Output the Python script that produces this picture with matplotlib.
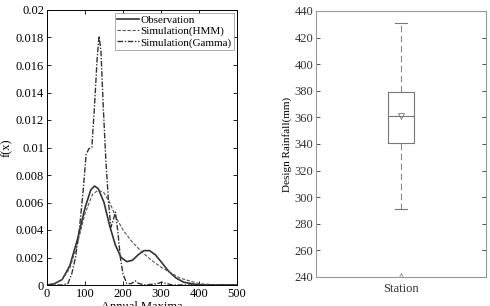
import matplotlib
matplotlib.use("Agg")
import matplotlib.pyplot as plt
import numpy as np

plt.rcParams['font.family'] = ['Liberation Serif', 'DejaVu Serif']

# Left panel: density curves
obs_x = [0, 20, 40, 60, 80, 100, 115, 125, 135, 150, 165, 180, 195, 210, 225, 240, 255, 270, 285, 300, 320, 340, 360, 380, 400, 450, 500]
obs_y = [0.0, 0.0001, 0.0004, 0.0014, 0.0033, 0.0056, 0.0069, 0.0072, 0.0070, 0.0060, 0.0043, 0.0029, 0.0020, 0.0017, 0.0018, 0.0022, 0.0025, 0.0025, 0.0022, 0.0017, 0.0010, 0.0005, 0.0002, 0.0001, 0.0, 0.0, 0.0]

hmm_x = [0, 20, 40, 60, 80, 100, 120, 135, 150, 165, 180, 200, 225, 250, 275, 300, 325, 350, 375, 400, 450, 500]
hmm_y = [0.0, 0.0001, 0.0004, 0.0012, 0.0030, 0.0052, 0.0066, 0.0069, 0.0067, 0.0060, 0.0050, 0.0040, 0.0031, 0.0024, 0.0018, 0.0013, 0.0009, 0.0005, 0.0003, 0.0001, 0.0, 0.0]

gam_x = [0, 40, 55, 65, 75, 85, 95, 103, 110, 118, 125, 132, 137, 142, 148, 155, 162, 168, 174, 180, 186, 193, 200, 210, 222, 232, 242, 260, 290, 302, 315, 330, 500]
gam_y = [0.0, 0.0, 0.0001, 0.0008, 0.0020, 0.0040, 0.0068, 0.0095, 0.0099, 0.0100, 0.0130, 0.0165, 0.0181, 0.0170, 0.0130, 0.0090, 0.0060, 0.0042, 0.0047, 0.0053, 0.0040, 0.0020, 0.0008, 0.0001, 0.0001, 0.0003, 0.0001, 0.0, 0.0001, 0.0002, 0.0001, 0.0, 0.0]

labels = ['Observation', 'Simulation(HMM)', 'Simulation(Gamma)']

# Right panel: box plot statistics
box_median = 361
box_q1 = 341
box_q3 = 379
box_whislo = 291
box_whishi = 431
box_mean = 361
box_fliers = [241]
box_label = 'Station'

fig = plt.figure(figsize=(4.9, 3.06), dpi=100)
ax1 = fig.add_axes([47/490, 1 - 285/306, 190/490, 275/306])
ax2 = fig.add_axes([316/490, 1 - 277/306, 170/490, 266/306])

ax1.plot(obs_x, obs_y, color='#333333', lw=1.2, ls='-', label=labels[0])
ax1.plot(hmm_x, hmm_y, color='#555555', lw=0.8, ls=(0, (3, 1.5)), label=labels[1])
ax1.plot(gam_x, gam_y, color='#333333', lw=1.0, ls=(0, (4, 1.2, 1, 1.2)), label=labels[2])
ax1.set_xlim(0, 500)
ax1.set_ylim(0, 0.02)
ax1.set_xticks([0, 100, 200, 300, 400, 500])
ax1.set_yticks(np.arange(0, 0.0201, 0.002))
ax1.set_yticklabels(['0', '0.002', '0.004', '0.006', '0.008', '0.01', '0.012', '0.014', '0.016', '0.018', '0.02'])
ax1.set_xlabel('Annual Maxima', fontsize=9, labelpad=1)
ax1.set_ylabel('f(x)', fontsize=9, labelpad=2)
ax1.tick_params(direction='in', top=True, right=True, labelsize=9, length=3, width=0.6, pad=2)
leg = ax1.legend(loc='upper right', fontsize=8, frameon=True, fancybox=False, edgecolor='#888888',
                 borderpad=0.2, labelspacing=0.1, handlelength=2.0, handletextpad=0.1, borderaxespad=0.3)
leg.get_frame().set_linewidth(0.6)

stats = [dict(med=box_median, q1=box_q1, q3=box_q3, whislo=box_whislo, whishi=box_whishi,
              mean=box_mean, fliers=box_fliers, label=box_label)]
ax2.bxp(stats, positions=[1], widths=0.15, showmeans=True, showfliers=True,
        boxprops=dict(color='#777777', lw=0.8),
        medianprops=dict(color='#777777', lw=0.8),
        whiskerprops=dict(color='#888888', lw=0.8, ls=(0, (6, 3))),
        capprops=dict(color='#777777', lw=0.8),
        meanprops=dict(marker='v', markerfacecolor='none', markeredgecolor='#777777', markersize=4, markeredgewidth=0.6),
        flierprops=dict(marker='^', markerfacecolor='none', markeredgecolor='#888888', markersize=4, markeredgewidth=0.6))
ax2.set_xlim(0.5, 1.5)
ax2.set_ylim(240, 440)
ax2.set_yticks(np.arange(240, 441, 20))
ax2.set_ylabel('Design Rainfall(mm)', fontsize=8, labelpad=2)
ax2.tick_params(direction='in', top=False, right=True, labelsize=9, length=3, width=0.6, pad=2, colors='#333333')
ax2.tick_params(axis='x', length=0, pad=4)
for s in ax2.spines.values():
    s.set_color('#999999'); s.set_linewidth(0.8)
for s in ax1.spines.values():
    s.set_linewidth(0.7)

fig.savefig('out.png', dpi=100)
